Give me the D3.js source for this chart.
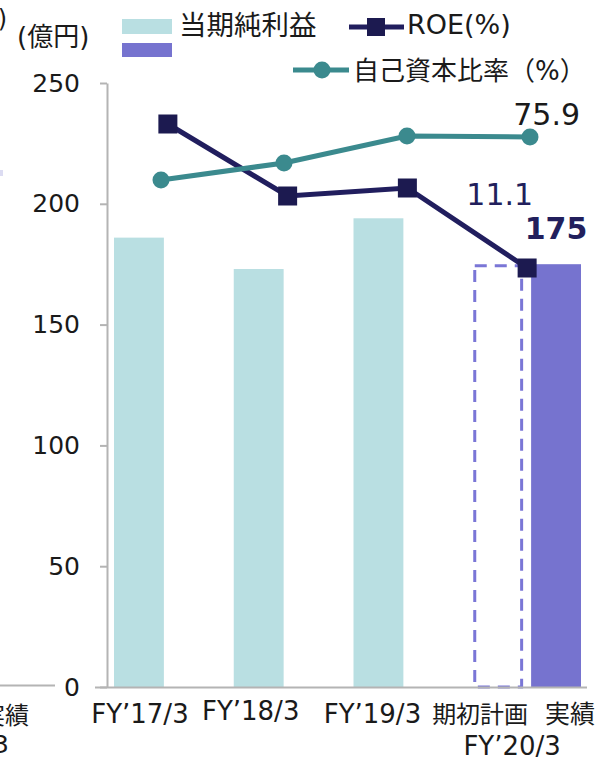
<!DOCTYPE html>
<html lang="ja">
<head>
<meta charset="utf-8">
<title>当期純利益・ROE・自己資本比率</title>
<style>
body { margin: 0; background: #fff; }
svg { display: block; font-family: "DejaVu Sans", "Noto Sans CJK JP", sans-serif; }
</style>
</head>
<body>
<div id="app"></div>
<script src="https://d3js.org/d3.v7.min.js"></script>
<script>
// --- data ---
const categories = ["FY’17/3", "FY’18/3", "FY’19/3", "FY’20/3"];
const netIncome = [186, 173, 194, null];        // 当期純利益 (億円)
const planIncome = [null, null, null, 175];     // 期初計画
const actualIncome = [null, null, null, 175];   // 実績
const roe = [14.7, 12.9, 13.1, 11.1];           // ROE(%)
const equityRatio = [71.6, 73.3, 76.0, 75.9];   // 自己資本比率(%)
const yTicks = [0, 50, 100, 150, 200, 250];
const subLabels = ["期初計画", "実績"];

const width = 601, height = 762;
const margin = {top: 83, right: 14, bottom: 75, left: 108};

const colors = {
  income: "#b9dfe2",
  actual: "#7673cf",
  plan: "#7a76d6",
  roe: "#211e5e",
  roeMark: "#1c1a50",
  equity: "#3b8a8e",
  axis: "#b4b4b4",
  text: "#1a1a1a",
  navy: "#221f5c"
};

const svg = d3.select("#app").append("svg")
    .attr("width", width)
    .attr("height", height)
    .attr("viewBox", [0, 0, width, height]);

svg.append("rect").attr("width", width).attr("height", height).attr("fill", "#fff");

// scales
const x = d3.scaleBand()
    .domain(categories)
    .range([margin.left, width - margin.right]);
const xs = d3.scaleBand()
    .domain(["income", "actual"])
    .range([6, x.bandwidth() - 6])
    .paddingInner(0.138);
const y = d3.scaleLinear()
    .domain([0, 250])
    .range([height - margin.bottom, margin.top]);
// hidden secondary scales for the two lines
const yRoe = d3.scaleLinear().domain([0, 16]).range([712, 72]);
const yEq = d3.scaleLinear().domain([60, 80]).range([296, 96]);
// the equity line sits on a slightly wider overlay than the bars
const xEq = d3.scalePoint()
    .domain(categories)
    .range([margin.left + 53, width - margin.right - 57]);
const cx = c => x(c) + x.bandwidth() / 2;

// fragments of the neighbouring chart on the left edge
svg.append("text").attr("x", 7).attr("y", 27).attr("text-anchor", "end")
    .attr("font-size", 24).attr("fill", colors.text).text(")");
svg.append("rect").attr("x", 0).attr("y", 170).attr("width", 3).attr("height", 6)
    .attr("fill", "#dcdcf2");
svg.append("line").attr("x1", 0).attr("x2", 55).attr("y1", 685.5).attr("y2", 685.5)
    .attr("stroke", colors.axis).attr("stroke-width", 2);
svg.append("text").attr("x", 29).attr("y", 724).attr("text-anchor", "end")
    .attr("font-size", 24).attr("fill", colors.text).text("実績");
svg.append("text").attr("x", 9).attr("y", 753).attr("text-anchor", "end")
    .attr("font-size", 25).attr("fill", colors.text).text("3");

// unit
svg.append("text").attr("x", 17).attr("y", 46)
    .attr("font-size", 26).attr("fill", colors.text).text("(億円)");

// y axis
const yAxis = g => g
    .attr("transform", `translate(${margin.left - 1},0)`)
    .call(d3.axisLeft(y).tickValues(yTicks).tickSize(7).tickSizeOuter(0).tickPadding(20))
    .call(g => g.select(".domain").attr("stroke", colors.axis).attr("stroke-width", 2))
    .call(g => g.selectAll(".tick line").attr("stroke", colors.axis).attr("stroke-width", 2))
    .call(g => g.selectAll(".tick text")
        .attr("font-size", 25)
        .attr("font-family", "DejaVu Sans")
        .attr("fill", colors.text));
svg.append("g").call(yAxis);

// bars
const bars = svg.append("g");
categories.forEach((c, i) => {
  if (netIncome[i] != null) {
    bars.append("rect")
        .attr("x", x(c) + xs("income"))
        .attr("y", y(netIncome[i]))
        .attr("width", xs.bandwidth())
        .attr("height", y(0) - y(netIncome[i]))
        .attr("fill", colors.income);
  }
  if (planIncome[i] != null) {
    bars.append("rect")
        .attr("x", x(c) + xs("income") + 1.5)
        .attr("y", y(planIncome[i]) + 1.5)
        .attr("width", xs.bandwidth() - 3)
        .attr("height", y(0) - y(planIncome[i]) - 1.5)
        .attr("fill", "#fff")
        .attr("stroke", colors.plan)
        .attr("stroke-width", 3)
        .attr("stroke-dasharray", "12,8");
  }
  if (actualIncome[i] != null) {
    bars.append("rect")
        .attr("x", x(c) + xs("actual"))
        .attr("y", y(actualIncome[i]))
        .attr("width", xs.bandwidth())
        .attr("height", y(0) - y(actualIncome[i]))
        .attr("fill", colors.actual);
  }
});

// baseline
svg.append("line")
    .attr("x1", margin.left - 13).attr("x2", width - margin.right)
    .attr("y1", y(0) + 0.5).attr("y2", y(0) + 0.5)
    .attr("stroke", colors.axis).attr("stroke-width", 2);

// ROE line
svg.append("path")
    .datum(roe)
    .attr("fill", "none")
    .attr("stroke", colors.roe)
    .attr("stroke-width", 5)
    .attr("d", d3.line().x((d, i) => cx(categories[i])).y(d => yRoe(d)));
svg.append("g").selectAll("rect")
  .data(roe)
  .join("rect")
    .attr("x", (d, i) => cx(categories[i]) - 9.5)
    .attr("y", d => yRoe(d) - 9.5)
    .attr("width", 19).attr("height", 19)
    .attr("fill", colors.roeMark);

// equity ratio line
svg.append("path")
    .datum(equityRatio)
    .attr("fill", "none")
    .attr("stroke", colors.equity)
    .attr("stroke-width", 5)
    .attr("d", d3.line().x((d, i) => xEq(categories[i])).y(d => yEq(d)));
svg.append("g").selectAll("circle")
  .data(equityRatio)
  .join("circle")
    .attr("cx", (d, i) => xEq(categories[i]))
    .attr("cy", d => yEq(d))
    .attr("r", 8.5)
    .attr("fill", colors.equity);

// value labels
const last = categories.length - 1;
svg.append("text")
    .attr("x", xEq(categories[last]) + 50)
    .attr("y", yEq(equityRatio[last]) - 12)
    .attr("text-anchor", "end")
    .attr("font-size", 30)
    .attr("fill", colors.text)
    .text(d3.format(".1f")(equityRatio[last]));
svg.append("text")
    .attr("x", cx(categories[last]) + 6)
    .attr("y", yRoe(roe[last]) - 63)
    .attr("text-anchor", "end")
    .attr("font-size", 30)
    .attr("fill", colors.navy)
    .text(d3.format(".1f")(roe[last]));
svg.append("text")
    .attr("x", x(categories[last]) + xs("actual") + xs.bandwidth() / 2)
    .attr("y", y(actualIncome[last]) - 25)
    .attr("text-anchor", "middle")
    .attr("font-size", 30)
    .attr("font-weight", "bold")
    .attr("fill", colors.navy)
    .text(actualIncome[last]);

// category labels
const labelNudge = [1, -8, -6];
const labelBase = [723, 720, 723];
const xl = svg.append("g").attr("font-size", 26).attr("fill", colors.text).attr("text-anchor", "middle");
categories.slice(0, 3).forEach((c, i) => {
  xl.append("text")
      .attr("x", x(c) + xs("income") + xs.bandwidth() / 2 + labelNudge[i])
      .attr("y", labelBase[i])
      .text(c);
});
xl.append("text")
    .attr("x", cx(categories[last]) - 47).attr("y", 723)
    .attr("font-size", 24).text(subLabels[0]);
xl.append("text")
    .attr("x", cx(categories[last]) + 43).attr("y", 723)
    .attr("font-size", 25).text(subLabels[1]);
xl.append("text")
    .attr("x", cx(categories[last]) - 15).attr("y", 755)
    .text(categories[last]);

// legend
const lg = svg.append("g").attr("fill", colors.text);
lg.append("rect").attr("x", 122).attr("y", 19).attr("width", 50).attr("height", 15).attr("fill", colors.income);
lg.append("rect").attr("x", 122).attr("y", 43).attr("width", 50).attr("height", 14).attr("fill", colors.actual);
lg.append("text").attr("x", 179).attr("y", 35).attr("font-size", 27.5).text("当期純利益");

lg.append("line").attr("x1", 349).attr("x2", 404).attr("y1", 27).attr("y2", 27)
    .attr("stroke", colors.roe).attr("stroke-width", 5);
lg.append("rect").attr("x", 367).attr("y", 18).attr("width", 18).attr("height", 18).attr("fill", colors.roeMark);
lg.append("text").attr("x", 407).attr("y", 34).attr("font-size", 27).text("ROE(%)");

lg.append("line").attr("x1", 293).attr("x2", 349).attr("y1", 70).attr("y2", 70)
    .attr("stroke", colors.equity).attr("stroke-width", 5);
lg.append("circle").attr("cx", 322).attr("cy", 70).attr("r", 8.5).attr("fill", colors.equity);
lg.append("text").attr("x", 353).attr("y", 80).attr("font-size", 26).text("自己資本比率（%）");
</script>
</body>
</html>
